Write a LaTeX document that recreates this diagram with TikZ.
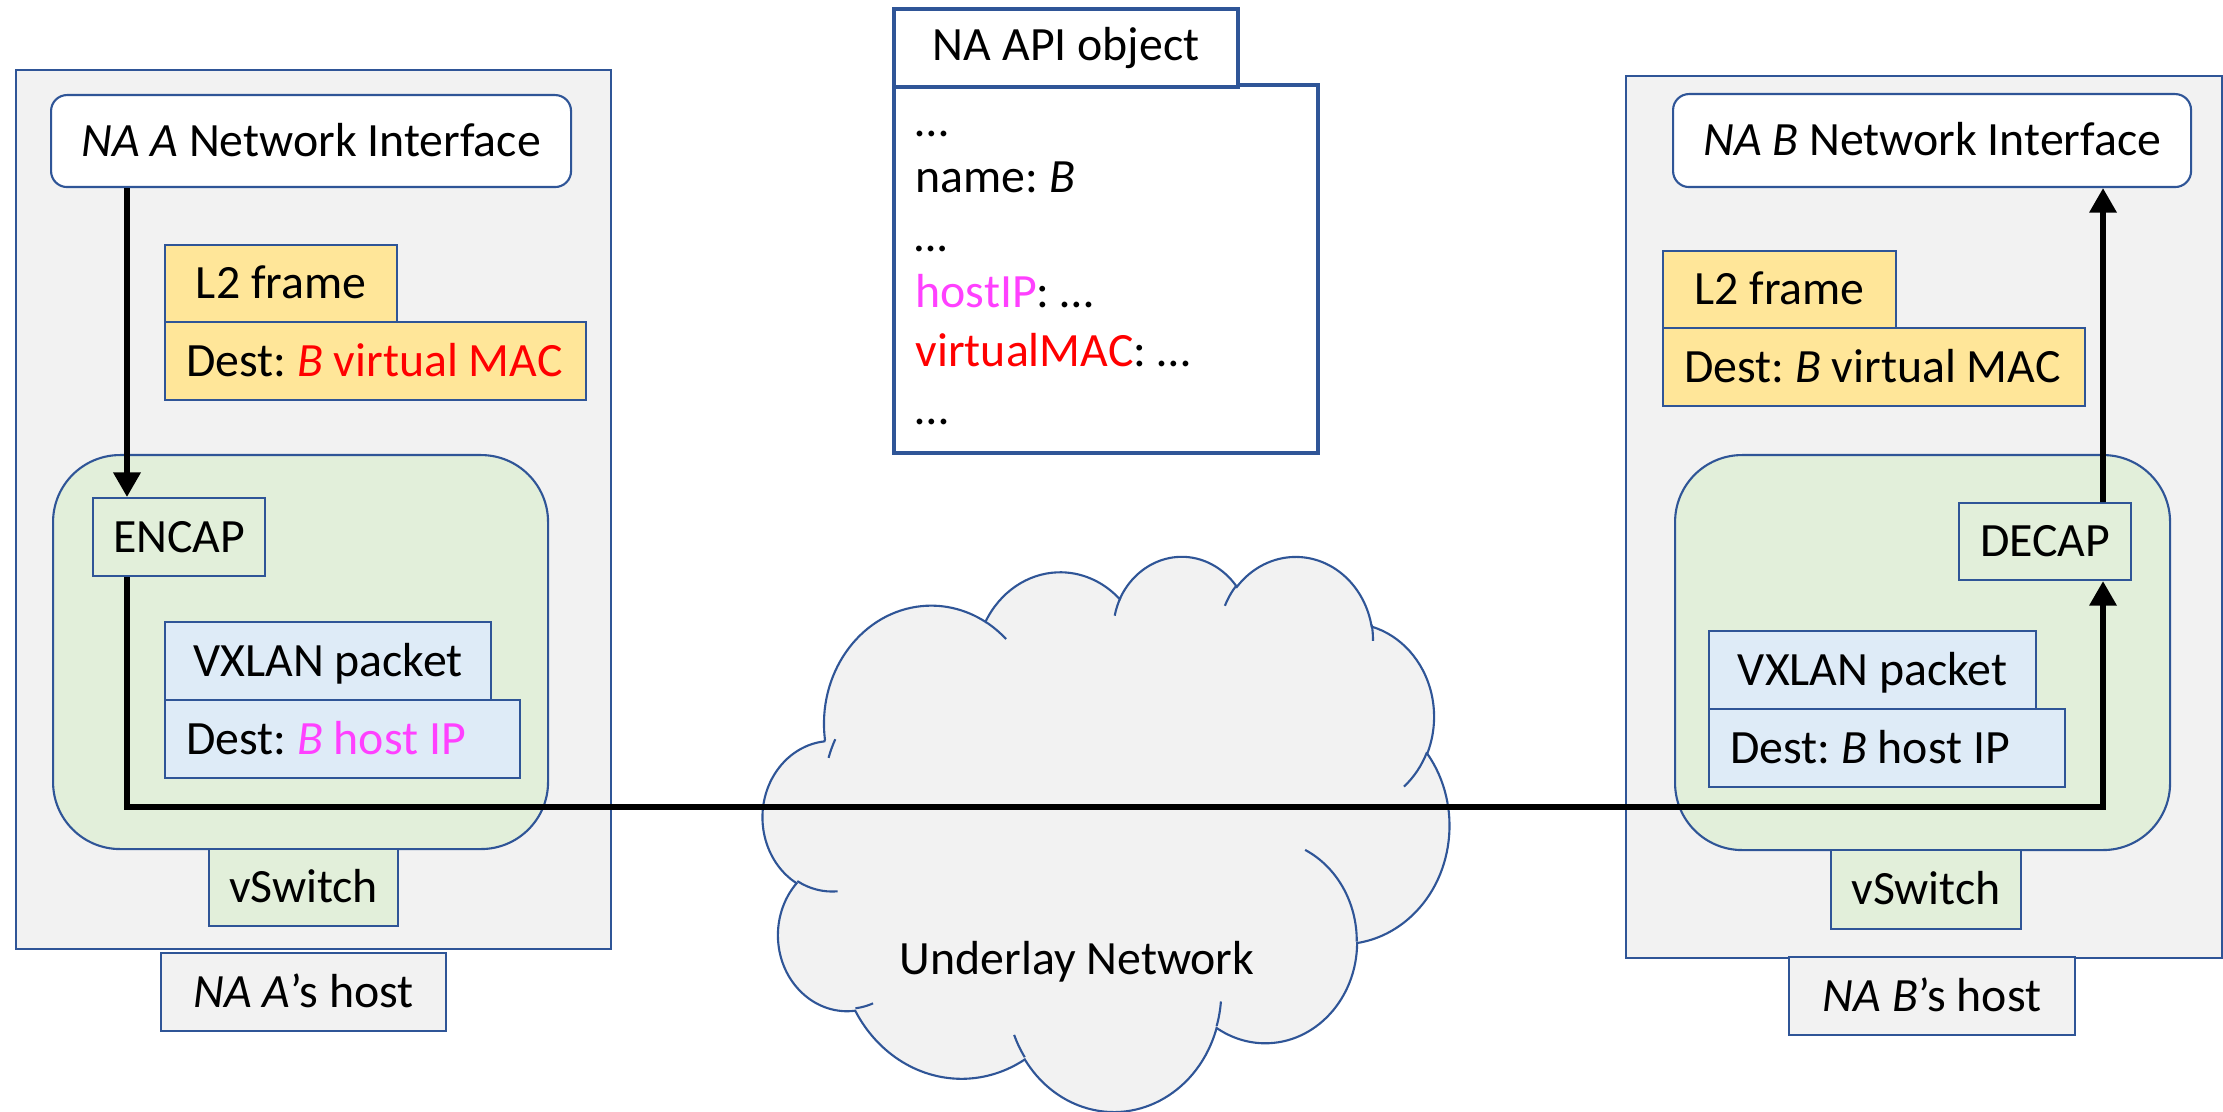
\documentclass[tikz,border=0pt]{standalone}
\usepackage{fontspec}
\setmainfont{Carlito}
\usetikzlibrary{arrows.meta}
\definecolor{edgeblue}{HTML}{2F5597}
\definecolor{hostgray}{HTML}{F2F2F2}
\definecolor{swgreen}{HTML}{E2EFDA}
\definecolor{framegold}{HTML}{FFE699}
\definecolor{packetblue}{HTML}{DEEBF7}
\definecolor{macred}{HTML}{FF0000}
\definecolor{ipmagenta}{HTML}{FF40FF}
% one lobe of the cloud: x radius, y radius, start and sweep (visual angles)
\newcommand{\puff}[4]{arc[start angle={atan2(#1*sin(#3),#2*cos(#3))}, delta angle={mod(atan2(#1*sin(#3+#4),#2*cos(#3+#4))-atan2(#1*sin(#3),#2*cos(#3))+720,360)}, x radius=#1, y radius=#2]}

\begin{document}
\frenchspacing
\begin{tikzpicture}[
    every node/.style={font=\fontsize{13.6}{16}\selectfont},
    pane/.style={draw=edgeblue, line width=0.6pt, anchor=north west, inner sep=0pt, text height=0.38cm, text depth=0.08cm},
    hostbox/.style={pane, fill=hostgray},
    nic/.style={pane, fill=white, rounded corners=0.16cm},
    swarea/.style={pane, fill=swgreen, rounded corners=0.67cm},
    swbox/.style={pane, fill=swgreen},
    l2box/.style={pane, fill=framegold},
    vxbox/.style={pane, fill=packetblue},
    destbox/.style={align=flush left, inner xsep=0.21cm},
    apibox/.style={draw=edgeblue, line width=1.2pt, fill=white, anchor=north west, inner sep=0pt},
    apiline/.style={anchor=base west, inner sep=0pt},
    cloudline/.style={draw=edgeblue, line width=0.6pt},
    flowline/.style={line width=1.6pt, -{Triangle[length=7pt,width=7.5pt]}}
]
    \fill[white] (0,0) rectangle (22.23,-11.12);
    \useasboundingbox (0,0) rectangle (22.23,-11.12);

    % host A
    \node[hostbox, minimum width=5.95cm, minimum height=8.79cm] (hosta) at (0.15,-0.69) {};
    \node[nic, minimum width=5.20cm, minimum height=0.92cm] (nia) at (0.50,-0.94) {\textit{NA A} Network Interface};
    \node[l2box, minimum width=2.32cm, minimum height=0.77cm] (l2a) at (1.64,-2.44) {L2 frame};
    \node[l2box, destbox, text width=3.79cm, minimum height=0.78cm] (desta) at (1.64,-3.21) {Dest: {\color{macred}\textit{B} virtual MAC}};
    \node[swarea, minimum width=4.95cm, minimum height=3.94cm] (swa) at (0.52,-4.54) {};
    \node[swbox, minimum width=1.72cm, minimum height=0.78cm] (encap) at (0.92,-4.97) {ENCAP};
    \node[vxbox, minimum width=3.26cm, minimum height=0.78cm] (vxa) at (1.64,-6.21) {VXLAN packet};
    \node[vxbox, destbox, text width=3.13cm, minimum height=0.78cm] (hipa) at (1.64,-6.99) {Dest: {\color{ipmagenta}\textit{B} host IP}};
    \node[swbox, minimum width=1.89cm, minimum height=0.77cm] (vswa) at (2.08,-8.48) {vSwitch};
    \node[hostbox, minimum width=2.85cm, minimum height=0.78cm] (lbla) at (1.60,-9.52) {\textit{NA A}’s host};

    % host B
    \node[hostbox, minimum width=5.96cm, minimum height=8.82cm] (hostb) at (16.25,-0.75) {};
    \node[nic, minimum width=5.18cm, minimum height=0.93cm] (nib) at (16.72,-0.93) {\textit{NA B} Network Interface};
    \node[l2box, minimum width=2.33cm, minimum height=0.77cm] (l2b) at (16.62,-2.50) {L2 frame};
    \node[l2box, destbox, text width=3.80cm, minimum height=0.78cm] (destb) at (16.62,-3.27) {Dest: \textit{B} virtual MAC};
    \node[swarea, minimum width=4.95cm, minimum height=3.95cm] (swb) at (16.74,-4.54) {};
    \node[swbox, minimum width=1.72cm, minimum height=0.77cm] (decap) at (19.58,-5.02) {DECAP};
    \node[vxbox, minimum width=3.27cm, minimum height=0.78cm] (vxb) at (17.08,-6.30) {VXLAN packet};
    \node[vxbox, destbox, text width=3.14cm, minimum height=0.78cm] (hipb) at (17.08,-7.08) {Dest: \textit{B} host IP};
    \node[swbox, minimum width=1.90cm, minimum height=0.79cm] (vswb) at (18.30,-8.49) {vSwitch};
    \node[hostbox, minimum width=2.86cm, minimum height=0.78cm] (lblb) at (17.88,-9.56) {\textit{NA B}’s host};

    % API object
    \node[apibox, minimum width=4.24cm, minimum height=3.68cm] (apibody) at (8.92,-0.83) {};
    \node[apibox, minimum width=3.44cm, minimum height=0.78cm] (apitab) at (8.92,-0.07) {NA API object};
    \node[apiline] (api1) at (9.15,-1.37) {…};
    \node[apiline] (api2) at (9.15,-1.93) {name: \textit{B}};
    \node[apiline] (api3) at (9.15,-2.52) {\textit{…}};
    \node[apiline] (api4) at (9.15,-3.08) {{\color{ipmagenta}hostIP}: …};
    \node[apiline] (api5) at (9.15,-3.67) {{\color{macred}virtualMAC}: …};
    \node[apiline] (api6) at (9.15,-4.25) {…};

    % underlay cloud
    \begin{scope}[shift={(7.63,-5.55)}, x=0.01588cm, y=-0.012847cm]
        \draw[cloudline, fill=hostgray] (39.00,143.70)
            \puff{67.53}{91.90}{-190.49}{123.78}
            \puff{53.33}{72.67}{-144.10}{89.95}
            \puff{43.65}{59.45}{-145.81}{99.72}
            \puff{48.57}{65.95}{-130.99}{117.24}
            \puff{53.33}{72.73}{-78.71}{109.03}
            \puff{67.75}{92.20}{-46.27}{130.27}
            \puff{57.85}{78.67}{0.625}{114.03}
            \puff{67.52}{92.15}{22.45}{115.17}
            \puff{77.20}{105.43}{66.24}{75.71}
            \puff{43.60}{59.18}{-274.94}{146.74}
            \puff{43.45}{59.45}{-246.83}{152.52} -- cycle;
        \draw[cloudline] (46.93,261.77) \puff{43.45}{59.45}{86.74}{26.43};
        \draw[cloudline] (69.28,348.99) \puff{43.60}{59.18}{73.61}{11.45};
        \draw[cloudline] (164.78,390.90) \puff{67.52}{92.15}{137.62}{14.08};
        \draw[cloudline] (288.27,347.51) \puff{67.52}{92.15}{6.45}{16.00};
        \draw[cloudline] (341.29,229.54) \puff{57.85}{78.67}{-70.29}{70.92};
        \draw[cloudline] (417.98,153.54) \puff{53.33}{72.73}{30.32}{27.75};
        \draw[cloudline] (383.24,54.26) \puff{48.57}{65.95}{-13.74}{14.85};
        \draw[cloudline] (290.78,39.52) \puff{48.57}{65.95}{-149.18}{18.20};
        \draw[cloudline] (221.41,47.20) \puff{43.65}{59.45}{-163.49}{17.69};
        \draw[cloudline] (140.00,51.92) \puff{67.53}{91.90}{-66.71}{12.32};
        \draw[cloudline] (41.27,157.89) \puff{67.53}{91.90}{-157.65}{11.86};
    \end{scope}
    \node (underlay) at (10.77,-9.62) {Underlay Network};

    % packet path
    \coordinate (turn) at (21.03,-8.07);
    \draw[flowline] ([xshift=0.77cm]nia.south west) -- ([xshift=0.35cm]encap.north west);
    \draw[flowline] ([xshift=0.35cm]encap.south west) |- (turn) -- ([xshift=1.45cm]decap.south west);
    \draw[flowline] ([xshift=1.45cm]decap.north west) -- ([xshift=4.31cm]nib.south west);
\end{tikzpicture}
\end{document}
